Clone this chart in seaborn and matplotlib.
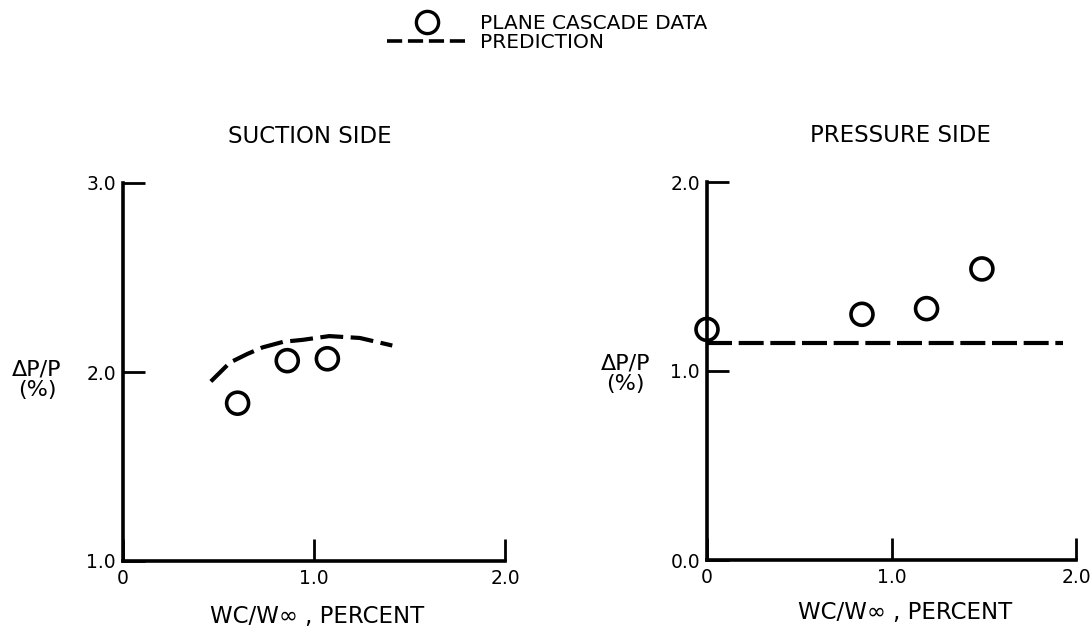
import matplotlib
matplotlib.use('Agg')
import matplotlib.pyplot as plt
import seaborn as sns
from matplotlib.lines import Line2D

sns.set_theme(style='white')
plt.rcParams['font.family'] = ['DejaVu Sans']

# suction side
suc_data_x = [0.60, 0.86, 1.07]
suc_data_y = [1.835, 2.06, 2.07]
suc_pred_x = [0.46, 0.56, 0.65, 0.73, 0.84, 0.94, 1.08, 1.24, 1.41]
suc_pred_y = [1.95, 2.05, 2.095, 2.13, 2.16, 2.17, 2.19, 2.18, 2.14]

# pressure side
prs_data_x = [0.0, 0.84, 1.19, 1.49]
prs_data_y = [1.22, 1.30, 1.33, 1.54]
prs_pred_x = [0.0, 1.93]
prs_pred_y = [1.15, 1.15]

x_ticks = [0, 1, 2]
x_ticklabels = ['0', '1.0', '2.0']
suc_yticks = [1, 2, 3]
suc_yticklabels = ['1.0', '2.0', '3.0']
prs_yticks = [0, 1, 2]
prs_yticklabels = ['0.0', '1.0', '2.0']

W, H = 1091, 626
fig = plt.figure(figsize=(W / 100, H / 100), dpi=100)
ax1 = fig.add_axes([123 / W, 1 - 561 / H, 382 / W, 378 / H])
ax2 = fig.add_axes([707 / W, 1 - 560 / H, 369 / W, 378 / H])

dash = (0, (5.5, 1.8))
mk = dict(marker='o', s=250, facecolors='none', edgecolors='black', linewidths=2.6, clip_on=False, zorder=3)

sns.lineplot(x=suc_pred_x, y=suc_pred_y, ax=ax1, color='black', lw=3, linestyle=dash, sort=False, clip_on=False)
sns.scatterplot(x=suc_data_x, y=suc_data_y, ax=ax1, **mk)
sns.lineplot(x=prs_pred_x, y=prs_pred_y, ax=ax2, color='black', lw=3, linestyle=(0, (6, 1.6)), sort=False, clip_on=False)
sns.scatterplot(x=prs_data_x, y=prs_data_y, ax=ax2, **mk)

panels = [
    (ax1, (1, 3), suc_yticks, suc_yticklabels, 'SUCTION SIDE', 0.49, -0.225, 0.479, 0.508, -0.116),
    (ax2, (0, 2), prs_yticks, prs_yticklabels, 'PRESSURE SIDE', 0.523, -0.222, 0.492, 0.537, -0.108),
]
for ax, ylim, yt, ytl, title, tx, ylx, yly, xlx, xly in panels:
    ax.set_xlim(0, 2)
    ax.set_ylim(*ylim)
    ax.set_xticks(x_ticks)
    ax.set_xticklabels(x_ticklabels)
    ax.set_yticks(yt)
    ax.set_yticklabels(ytl)
    sns.despine(ax=ax)
    for s in ['left', 'bottom']:
        ax.spines[s].set_linewidth(2.6)
        ax.spines[s].set_color('black')
    ax.tick_params(axis='both', direction='in', length=16, width=2, color='black',
                   labelsize=13.5, labelcolor='black', bottom=True, left=True)
    ax.tick_params(axis='x', pad=6)
    ax.tick_params(axis='y', pad=5)
    ax.set_title(title, fontsize=16.5, x=tx, pad=29, color='black')
    ax.set_xlabel('WC/W\u221e , PERCENT', fontsize=16.5, color='black', va='top')
    ax.xaxis.set_label_coords(xlx, xly)
    ax.set_ylabel('\u0394P/P\n(%)', fontsize=16, rotation=0, ha='center', va='center',
                  color='black', linespacing=1.05)
    ax.yaxis.set_label_coords(ylx, yly)
    ax.grid(False)

handles = [
    Line2D([], [], marker='o', linestyle='None', markersize=16, markerfacecolor='none',
           markeredgecolor='black', markeredgewidth=2.4),
    Line2D([], [], color='black', lw=2.6, dashes=(4.2, 1.6)),
]
leg = fig.legend(handles, ['PLANE CASCADE DATA', 'PREDICTION'], loc='upper left',
                 bbox_to_anchor=(387 / W, 1 - 14 / H), frameon=False, fontsize=14.5,
                 handlelength=4.0, handletextpad=0.6, labelspacing=0.0,
                 borderpad=0, borderaxespad=0, numpoints=1)
for t in leg.get_texts():
    t.set_color('black')

fig.savefig('out.png', dpi=100, facecolor='white')
